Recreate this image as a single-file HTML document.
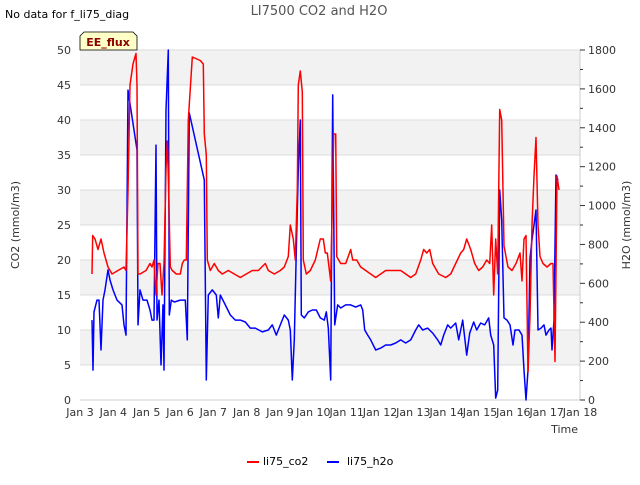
<!DOCTYPE html>
<html><head><meta charset="utf-8"><style>
body{margin:0;background:#fff;font-family:"Liberation Sans","DejaVu Sans",sans-serif}
svg text{font-family:"DejaVu Sans","Liberation Sans",sans-serif}
</style></head><body>
<svg id="chart" width="640" height="480" xmlns="http://www.w3.org/2000/svg">
<text x="5" y="18" font-size="11" fill="#000">No data for f_li75_diag</text>
<text x="319" y="15" font-size="13" fill="#555" text-anchor="middle">LI7500 CO2 and H2O</text>
<g id="bands"></g>
<g id="grid"></g>
<g id="axes"></g>
<g id="series"></g>
<text x="19" y="225" font-size="11" fill="#333" text-anchor="middle" transform="rotate(-90 19 225)">CO2 (mmol/m3)</text>
<text x="630" y="225" font-size="11" fill="#333" text-anchor="middle" transform="rotate(-90 630 225)">H2O (mmol/m3)</text>
<text x="578" y="433" font-size="11" fill="#333" text-anchor="end">Time</text>
<g>
<path d="M84,32 L133,32 L137,36 L137,50 L80,50 L80,36 Z" fill="#ffffc8" stroke="#000" stroke-width="0.8"/>
<text x="108" y="46" font-size="11" font-weight="bold" fill="#8b0000" text-anchor="middle">EE_flux</text>
</g>
<g>
<g><line x1="247" y1="462" x2="259" y2="462" stroke="#f00" stroke-width="2"/><text x="263" y="465" font-size="11" fill="#000">li75_co2</text></g>
<g><line x1="327" y1="462" x2="339" y2="462" stroke="#00f" stroke-width="2"/><text x="347" y="465" font-size="11" fill="#000">li75_h2o</text></g>
</g>
</svg>
<script>
const xTickLabels=["Jan 3","Jan 4","Jan 5","Jan 6","Jan 7","Jan 8","Jan 9","Jan 10","Jan 11","Jan 12","Jan 13","Jan 14","Jan 15","Jan 16","Jan 17","Jan 18"];
const leftTicks=[0,5,10,15,20,25,30,35,40,45,50];
const rightTicks=[0,200,400,600,800,1000,1200,1400,1600,1800];
const co2Time=[0.36,0.38,0.45,0.54,0.63,0.72,0.84,0.96,1.14,1.32,1.38,1.44,1.50,1.59,1.68,1.71,1.74,1.80,1.98,2.10,2.16,2.22,2.28,2.34,2.40,2.46,2.52,2.58,2.62,2.65,2.71,2.77,2.89,3.01,3.07,3.13,3.19,3.25,3.37,3.61,3.70,3.73,3.79,3.82,3.91,4.03,4.15,4.27,4.45,4.63,4.81,4.99,5.17,5.35,5.56,5.65,5.83,6.01,6.13,6.25,6.31,6.40,6.46,6.52,6.55,6.61,6.67,6.70,6.79,6.91,7.06,7.21,7.30,7.36,7.42,7.52,7.61,7.67,7.70,7.82,7.97,8.12,8.18,8.30,8.42,8.57,8.72,8.87,9.02,9.17,9.47,9.62,9.77,9.92,10.07,10.22,10.31,10.40,10.49,10.58,10.76,10.97,11.12,11.27,11.42,11.51,11.60,11.72,11.84,11.96,12.08,12.20,12.29,12.35,12.41,12.47,12.53,12.59,12.65,12.72,12.84,12.96,13.08,13.20,13.26,13.32,13.38,13.44,13.50,13.56,13.62,13.68,13.74,13.80,13.89,14.01,14.13,14.19,14.25,14.31,14.37];
const co2Values=[18,23.5,23,21.5,23,21,19,18,18.5,19,18.5,30,45,48,49.5,45,18,18,18.5,19.5,19,20,15,19.5,19.5,15,19.5,33,37,32,19,18.5,18,18,19.5,20,20,40,49,48.5,48,38,35,20,18.5,19.5,18.5,18,18.5,18,17.5,18,18.5,18.5,19.5,18.5,18,18.5,19,20.5,25,23,20,30,45,47,44,20,18,18.5,20,23,23,21,21,17,38,38,20.5,19.5,19.5,21.5,20,20,19,18.5,18,17.5,18,18.5,18.5,18.5,18,17.5,18,20,21.5,21,21.5,19.5,18,17.5,18,19.5,21,21.5,23,21.5,19.5,18.5,19,20,19.5,25,15,23,18,41.5,40,22,19,18.5,19.5,21,17,23,23.5,4,12,25,32,37.5,25,20.5,19.5,19,19.5,19.5,5.5,32,30];
const h2oTime=[0.36,0.39,0.42,0.51,0.57,0.63,0.69,0.75,0.84,0.90,0.99,1.11,1.26,1.32,1.38,1.44,1.53,1.71,1.74,1.80,1.89,2.01,2.10,2.16,2.22,2.28,2.31,2.37,2.43,2.49,2.52,2.58,2.65,2.68,2.74,2.83,3.01,3.16,3.22,3.28,3.46,3.73,3.79,3.85,3.97,4.09,4.15,4.21,4.36,4.51,4.66,4.81,4.96,5.11,5.26,5.47,5.65,5.77,5.89,6.01,6.13,6.25,6.31,6.37,6.43,6.49,6.55,6.61,6.64,6.73,6.85,6.97,7.09,7.21,7.33,7.39,7.45,7.52,7.58,7.64,7.73,7.82,7.97,8.12,8.27,8.42,8.48,8.54,8.63,8.72,8.87,9.02,9.17,9.32,9.47,9.62,9.77,9.92,10.07,10.16,10.28,10.43,10.58,10.73,10.82,10.91,11.03,11.12,11.27,11.36,11.48,11.60,11.69,11.81,11.90,12.02,12.14,12.26,12.32,12.41,12.47,12.53,12.59,12.65,12.72,12.81,12.90,12.99,13.05,13.17,13.26,13.32,13.38,13.44,13.50,13.56,13.62,13.68,13.74,13.83,13.92,13.98,14.07,14.13,14.16,14.22,14.28,14.34];
const h2oValues=[411,154,453,514,514,257,514,566,669,617,566,514,489,386,334,1594,1491,1286,386,566,514,514,463,411,411,1311,411,514,180,489,154,1491,1800,437,514,504,514,514,309,1476,1337,1131,103,540,566,540,422,540,489,437,411,411,401,370,370,350,360,386,334,386,437,411,360,103,309,771,1183,1440,437,422,453,463,463,422,411,453,370,103,1569,386,489,473,489,489,478,489,463,360,334,309,257,267,283,283,293,309,293,309,360,386,360,370,344,309,283,334,386,370,396,309,411,231,344,401,360,396,386,422,334,283,10,51,1080,926,422,411,386,283,360,360,334,154,0,154,730,823,900,977,360,370,386,334,360,370,257,411,1157,1131];

const NS="http://www.w3.org/2000/svg";
const L=80,R=580,T=50,B=400;
const xS=t=>L+t*(R-L)/15;
const yL=v=>B-v*(B-T)/50;
const yR=v=>B-v*(B-T)/1800;
function mk(tag,attrs,parent){const e=document.createElementNS(NS,tag);for(const k in attrs)e.setAttribute(k,attrs[k]);parent.appendChild(e);return e;}
const bands=document.getElementById('bands'),grid=document.getElementById('grid'),axes=document.getElementById('axes'),series=document.getElementById('series');
mk('rect',{x:L,y:T,width:R-L,height:B-T,fill:'#fff'},bands);
for(let v=5;v<50;v+=10){
  const r=mk('rect',{x:L,y:yL(v+5),width:R-L,height:yL(v)-yL(v+5),fill:'#f2f2f2'},bands);
  
  
}
leftTicks.forEach(v=>{
  const g=mk('line',{x1:L,x2:R,y1:yL(v),y2:yL(v),stroke:'#dcdcdc','stroke-width':1},grid);
  
  
  const t=mk('text',{x:L-9,y:yL(v)+4,'font-size':11,fill:'#333','text-anchor':'end'},axes);t.textContent=v;
  
  
});
mk('line',{x1:R,x2:R,y1:T,y2:B,stroke:'#ccc'},axes);
mk('line',{x1:L,x2:R,y1:B,y2:B,stroke:'#ccc'},axes);
for(let v=0;v<=1800;v+=100){
  mk('line',{x1:R,x2:R+(v%200===0?5:3),y1:yR(v),y2:yR(v),stroke:'#333'},axes);
}
rightTicks.forEach(v=>{
  const t=mk('text',{x:R+8,y:yR(v)+4,'font-size':11,fill:'#333'},axes);t.textContent=v;
  
  
});
xTickLabels.forEach((s,i)=>{
  const t=mk('text',{x:xS(i),y:416,'font-size':11,fill:'#333','text-anchor':'middle'},axes);t.textContent=s;
  
  
});
function line(ts,vs,ys,color,name){
  const d=ts.map((t,i)=>(i?'L':'M')+xS(t).toFixed(1)+','+ys(vs[i]).toFixed(1)).join('');
  const p=mk('path',{d:d,fill:'none',stroke:color,'stroke-width':1.5,'stroke-linejoin':'round'},series);
  
  
}
line(h2oTime,h2oValues,yR,'#0000ff','h2o-line');
line(co2Time,co2Values,yL,'#ff0000','co2-line');
</script>
</body></html>
